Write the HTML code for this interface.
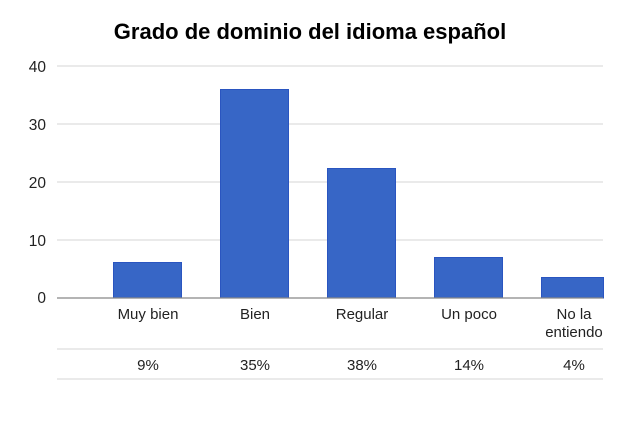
<!DOCTYPE html>
<html><head><meta charset="utf-8"><style>body{margin:0;background:#fff}</style></head><body>
<svg width="640" height="427" xmlns="http://www.w3.org/2000/svg" font-family="Liberation Sans, Arial, sans-serif">
<rect width="640" height="427" fill="#fff"/>
<text x="310" y="39" font-size="22" font-weight="bold" text-anchor="middle" fill="#000">Grado de dominio del idioma español</text>
<g stroke="#dedede" stroke-width="1.2">
<line x1="57" x2="603" y1="66" y2="66"/>
<line x1="57" x2="603" y1="124" y2="124"/>
<line x1="57" x2="603" y1="182" y2="182"/>
<line x1="57" x2="603" y1="240" y2="240"/>
<line x1="57" x2="603" y1="349" y2="349"/>
<line x1="57" x2="603" y1="379" y2="379"/>
</g>
<g font-size="15.5" fill="#222" text-anchor="end">
<text x="46" y="72">40</text><text x="46" y="130">30</text><text x="46" y="188">20</text><text x="46" y="246">10</text><text x="46" y="303">0</text>
</g>
<g fill="#3766c6" stroke="#2a55c0" stroke-width="1">
<rect x="113.5" y="262.5" width="68" height="35.5"/>
<rect x="220.5" y="89.5" width="68" height="208.5"/>
<rect x="327.5" y="168.5" width="68" height="129.5"/>
<rect x="434.5" y="257.5" width="68" height="40.5"/>
<rect x="541.5" y="277.5" width="62" height="20.5"/>
</g>
<line x1="57" x2="603" y1="298" y2="298" stroke="#888" stroke-width="1.2"/>
<g font-size="15" fill="#222" text-anchor="middle">
<text x="148" y="319">Muy bien</text>
<text x="255" y="319">Bien</text>
<text x="362" y="319">Regular</text>
<text x="469" y="319">Un poco</text>
<text x="574" y="319">No la</text>
<text x="574" y="337">entiendo</text>
<text x="148" y="370">9%</text>
<text x="255" y="370">35%</text>
<text x="362" y="370">38%</text>
<text x="469" y="370">14%</text>
<text x="574" y="370">4%</text>
</g>
</svg>
</body></html>
